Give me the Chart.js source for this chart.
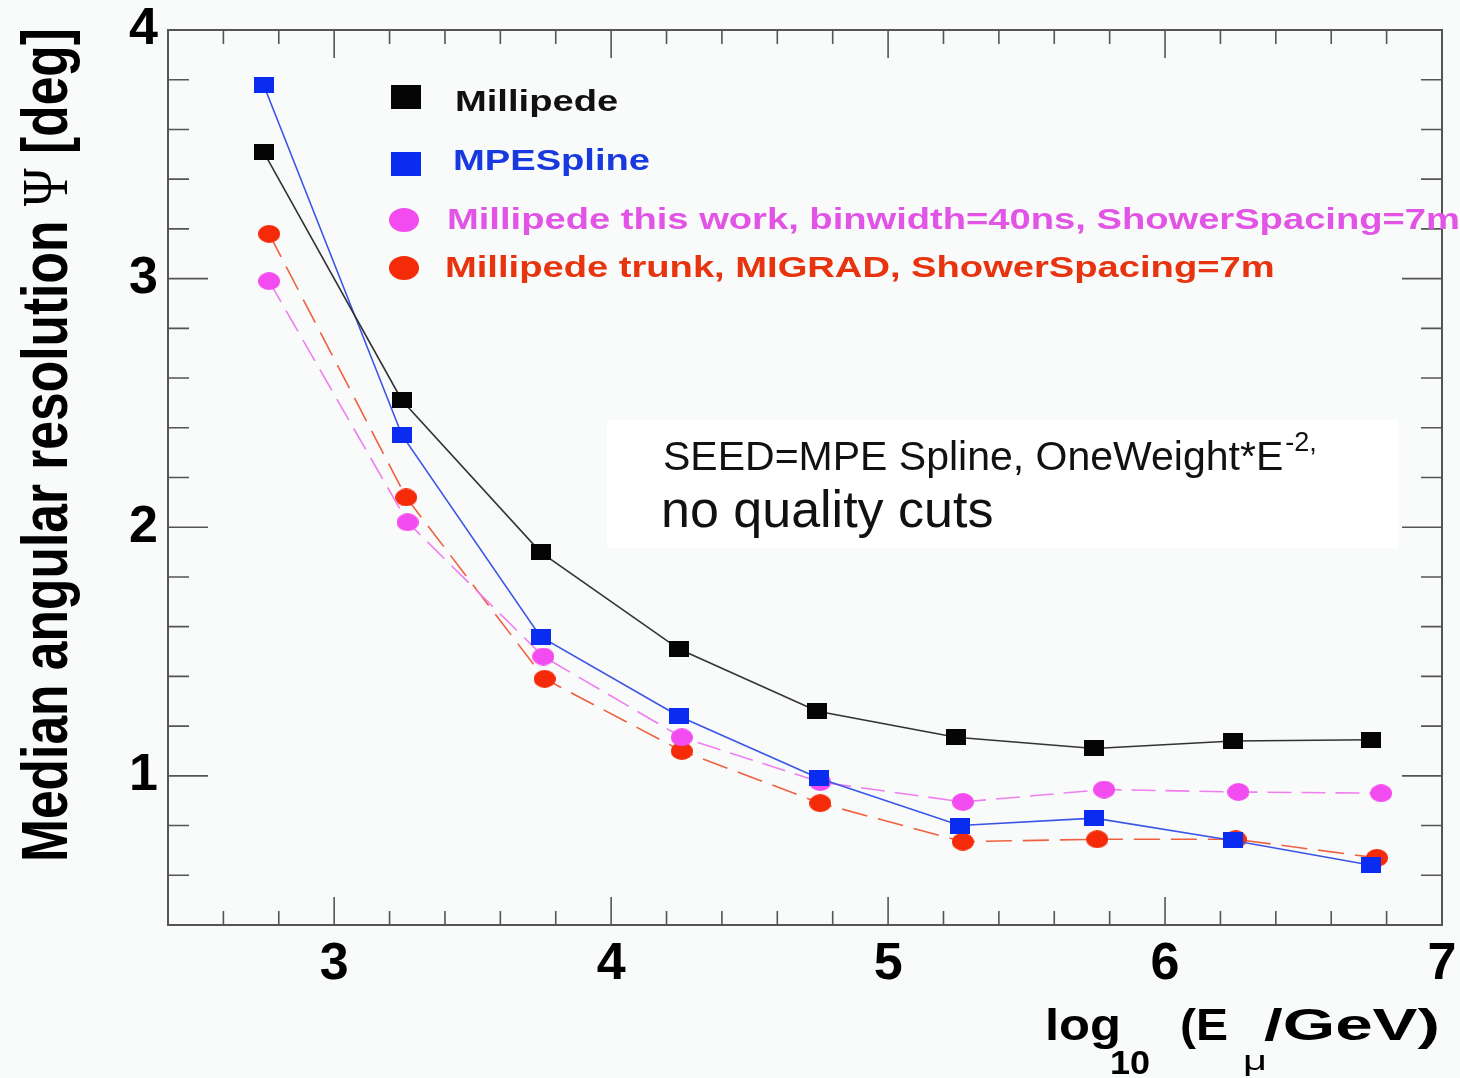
<!DOCTYPE html>
<html lang="en">
  <head>
    <meta charset="UTF-8" />
    <title>Median angular resolution</title>
    <script src="https://cdn.jsdelivr.net/npm/chart.js"></script>
    <style>
      body { margin: 0; background: #f8fbf9; }
    </style>
  </head>
  <body>
    <canvas id="myChart" width="1460" height="1078"></canvas>
  </body>
  <script>
    // tick labels
    const xMajor = [3, 4, 5, 6, 7];
    const yMajor = [1, 2, 3, 4];

    // log10(E/GeV) bin centres (per series, the markers are slightly offset)
    const xMillipede = [2.745, 3.245, 3.745, 4.245, 4.745, 5.245, 5.745, 6.245, 6.745];
    const xMPE = [2.745, 3.245, 3.745, 4.245, 4.75, 5.26, 5.745, 6.245, 6.745];
    const xThisWork = [2.765, 3.265, 3.755, 4.255, 4.755, 5.27, 5.78, 6.265, 6.78];
    const xTrunk = [2.765, 3.26, 3.76, 4.255, 4.755, 5.27, 5.755, 6.255, 6.765];

    // median angular resolution [deg]
    const yMillipede = [3.51, 2.51, 1.9, 1.51, 1.26, 1.155, 1.11, 1.14, 1.145];
    const yMPE = [3.78, 2.37, 1.56, 1.24, 0.99, 0.8, 0.83, 0.74, 0.64];
    const yThisWork = [2.99, 2.02, 1.48, 1.155, 0.975, 0.895, 0.945, 0.935, 0.93];
    const yTrunk = [3.18, 2.12, 1.39, 1.1, 0.89, 0.735, 0.745, 0.745, 0.67];

    const labels = [
      "Millipede",
      "MPESpline",
      "Millipede this work, binwidth=40ns, ShowerSpacing=7m",
      "Millipede trunk, MIGRAD, ShowerSpacing=7m",
    ];

    const FONT = "'Liberation Sans', Arial, sans-serif";

    function pts(xs, ys) {
      return xs.map((x, i) => ({ x: x, y: ys[i] }));
    }

    // marker images (the picture is a bit wider than tall)
    function marker(shape, color, w, h) {
      const c = document.createElement("canvas");
      c.width = w;
      c.height = h;
      const g = c.getContext("2d");
      g.fillStyle = color;
      if (shape === "rect") {
        g.fillRect(0, 0, w, h);
      } else {
        g.beginPath();
        g.ellipse(w / 2, h / 2, w / 2, h / 2, 0, 0, Math.PI * 2);
        g.fill();
      }
      return c;
    }

    const colBlack = "#050505";
    const colBlue = "#0a2cf0";
    const colMagenta = "#f24cf0";
    const colRed = "#f42a08";

    // draw text squeezed/stretched to a given width
    function drawFit(ctx, text, x, y, font, width) {
      ctx.save();
      ctx.font = font;
      const w = ctx.measureText(text).width;
      ctx.translate(x, y);
      ctx.scale(width / w, 1);
      ctx.fillText(text, 0, 0);
      ctx.restore();
    }

    function drawStretched(ctx, text, x, y, font, sx) {
      ctx.save();
      ctx.font = font;
      ctx.translate(x, y);
      ctx.scale(sx, 1);
      ctx.fillText(text, 0, 0);
      ctx.restore();
    }

    const rootStyle = {
      id: "rootStyle",
      beforeDraw(chart) {
        const ctx = chart.ctx;
        ctx.save();
        ctx.fillStyle = "#f8fbf9";
        ctx.fillRect(0, 0, chart.width, chart.height);
        ctx.restore();
      },
      afterDraw(chart) {
        const ctx = chart.ctx;
        const a = chart.chartArea;
        const xs = chart.scales.x;
        const ys = chart.scales.y;

        // frame
        ctx.save();
        ctx.strokeStyle = "#555";
        ctx.lineWidth = 2;
        ctx.strokeRect(a.left, a.top, a.right - a.left, a.bottom - a.top);

        // inward ticks on all four sides
        ctx.lineWidth = 1.6;
        ctx.beginPath();
        for (let i = 13; i <= 34; i++) {
          const px = xs.getPixelForValue(i / 5);
          const len = i % 5 === 0 ? 28 : 14;
          ctx.moveTo(px, a.bottom);
          ctx.lineTo(px, a.bottom - len);
          ctx.moveTo(px, a.top);
          ctx.lineTo(px, a.top + len);
        }
        for (let i = 3; i <= 19; i++) {
          const py = ys.getPixelForValue(i / 5);
          const len = i % 5 === 0 ? 40 : 21;
          ctx.moveTo(a.left, py);
          ctx.lineTo(a.left + len, py);
          ctx.moveTo(a.right, py);
          ctx.lineTo(a.right - len, py);
        }
        ctx.stroke();
        ctx.restore();

        // legend
        const rows = [
          { shape: "rect", color: colBlack, text: "#111", cy: 97, tx: 455, ty: 111 },
          { shape: "rect", color: colBlue, text: "#1838e0", cy: 164, tx: 453, ty: 170 },
          { shape: "circ", color: colMagenta, text: "#e254e6", cy: 220, tx: 447, ty: 229 },
          { shape: "circ", color: colRed, text: "#e8330f", cy: 268, tx: 445, ty: 277 },
        ];
        ctx.save();
        rows.forEach((r, i) => {
          ctx.fillStyle = r.color;
          if (r.shape === "rect") {
            ctx.fillRect(391, r.cy - 12, 30, 24);
          } else {
            ctx.beginPath();
            ctx.ellipse(404, r.cy, 15, 12, 0, 0, Math.PI * 2);
            ctx.fill();
          }
          ctx.fillStyle = r.text;
          drawStretched(ctx, labels[i], r.tx, r.ty, "bold 29px " + FONT, 1.315);
        });
        ctx.restore();

        // text box
        ctx.save();
        ctx.fillStyle = "#ffffff";
        ctx.fillRect(607, 420, 791, 128);
        ctx.fillStyle = "#111";
        ctx.font = "41px " + FONT;
        const s1 = "SEED=MPE Spline, OneWeight*E";
        ctx.fillText(s1, 663, 470);
        const w1 = ctx.measureText(s1).width;
        ctx.font = "27px " + FONT;
        ctx.fillText("-2,", 663 + w1 + 2, 451);
        ctx.font = "52px " + FONT;
        ctx.fillText("no quality cuts", 661, 527);
        ctx.restore();

        // x title: log10(E_mu/GeV)
        ctx.save();
        ctx.fillStyle = "#000";
        drawFit(ctx, "log", 1045, 1040, "bold 44px " + FONT, 76);
        drawFit(ctx, "10", 1110, 1074, "bold 33px " + FONT, 40);
        drawFit(ctx, "(E", 1180, 1040, "bold 44px " + FONT, 48);
        drawFit(ctx, "\u03bc", 1243, 1070, "28px " + FONT, 24);
        drawFit(ctx, "/GeV)", 1264, 1040, "bold 44px " + FONT, 176);
        ctx.restore();

        // y title: Median angular resolution Psi [deg]
        ctx.save();
        ctx.fillStyle = "#000";
        const yParts = [
          { t: "Median angular resolution ", f: "bold 50px " + FONT },
          { t: "\u03a8", f: "50px 'Liberation Serif', 'DejaVu Serif', serif" },
          { t: " [deg]", f: "bold 50px " + FONT },
        ];
        let yTotal = 0;
        yParts.forEach((p) => {
          ctx.font = p.f;
          p.w = ctx.measureText(p.t).width;
          yTotal += p.w;
        });
        ctx.translate(67, 862);
        ctx.rotate(-Math.PI / 2);
        ctx.scale((862 - 28) / yTotal, 1.3);
        let ty = 0;
        yParts.forEach((p) => {
          ctx.font = p.f;
          ctx.fillText(p.t, ty, 0);
          ty += p.w;
        });
        ctx.restore();
      },
    };

    const ctx = document.querySelector("#myChart");

    const myChart = new Chart(ctx, {
      type: "scatter",
      data: {
        datasets: [
          {
            label: labels[0],
            data: pts(xMillipede, yMillipede),
            showLine: true,
            borderColor: "#333",
            borderWidth: 1.6,
            pointStyle: marker("rect", colBlack, 20, 16),
          },
          {
            label: labels[1],
            data: pts(xMPE, yMPE),
            showLine: true,
            borderColor: "#3a55e6",
            borderWidth: 1.6,
            pointStyle: marker("rect", colBlue, 20, 16),
          },
          {
            label: labels[2],
            data: pts(xThisWork, yThisWork),
            showLine: true,
            borderColor: "#f07ef0",
            borderWidth: 1.6,
            borderDash: [24, 10],
            pointStyle: marker("circ", colMagenta, 22, 18),
          },
          {
            label: labels[3],
            data: pts(xTrunk, yTrunk),
            showLine: true,
            borderColor: "#ef6040",
            borderWidth: 1.6,
            borderDash: [26, 11],
            pointStyle: marker("circ", colRed, 22, 18),
          },
        ],
      },
      options: {
        responsive: false,
        animation: false,
        layout: { padding: { top: 30, right: 18 } },
        plugins: {
          legend: { display: false },
          tooltip: { enabled: false },
        },
        scales: {
          x: {
            type: "linear",
            min: 2.4,
            max: 7,
            grid: { display: false },
            border: { display: false },
            afterBuildTicks: (s) => {
              s.ticks = xMajor.map((v) => ({ value: v }));
            },
            afterFit: (s) => {
              s.height = 153;
              s.paddingLeft = 0;
              s.paddingRight = 0;
            },
            ticks: {
              color: "#000",
              font: { family: FONT, size: 52, weight: "bold" },
              padding: 0,
              maxRotation: 0,
              autoSkip: false,
            },
          },
          y: {
            type: "linear",
            min: 0.4,
            max: 4,
            grid: { display: false },
            border: { display: false },
            afterBuildTicks: (s) => {
              s.ticks = yMajor.map((v) => ({ value: v }));
            },
            afterFit: (s) => {
              s.width = 168;
              s.paddingTop = 0;
              s.paddingBottom = 0;
            },
            ticks: {
              color: "#000",
              font: { family: FONT, size: 52, weight: "bold" },
              padding: 2,
              autoSkip: false,
            },
          },
        },
      },
      plugins: [rootStyle],
    });
  </script>
</html>
